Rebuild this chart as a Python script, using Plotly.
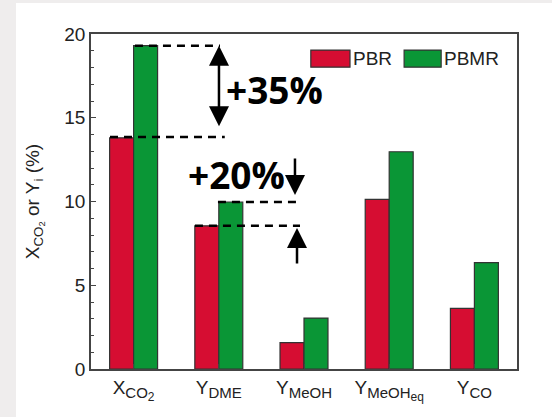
import plotly.graph_objects as go

categories = ["X<sub><span style='font-size:15px'>CO<sub><span style='font-size:12px'>2</span></sub></span></sub>",
              "Y<sub><span style='font-size:15px'>DME</span></sub>",
              "Y<sub><span style='font-size:15px'>MeOH</span></sub>",
              "Y<sub><span style='font-size:15px'>MeOH<sub><span style='font-size:12px'>eq</span></sub></span></sub>",
              "Y<sub><span style='font-size:15px'>CO</span></sub>"]
pbr = [13.8, 8.55, 1.57, 10.13, 3.62]
pbmr = [19.3, 9.97, 3.04, 12.97, 6.35]
y_ticks = [0, 5, 10, 15, 20]

RED = "#d60d32"
GREEN = "#0a9636"
EDGE = "#333333"
AX = "#444444"

xpos = list(range(len(categories)))

fig = go.Figure()
fig.add_trace(go.Bar(x=xpos, y=pbr, name="PBR", marker=dict(color=RED, line=dict(color=EDGE, width=1.2))))
fig.add_trace(go.Bar(x=xpos, y=pbmr, name="PBMR", marker=dict(color=GREEN, line=dict(color=EDGE, width=1.2))))

font_ax = dict(family="Liberation Sans, Arial, sans-serif", size=19, color="#222222")

fig.update_layout(
    width=552, height=417,
    margin=dict(l=91, r=35, t=34, b=48),
    paper_bgcolor="#efeded",
    plot_bgcolor="white",
    barmode="group", bargap=0.437, bargroupgap=0,
    showlegend=False,
    font=font_ax,
)
fig.update_xaxes(
    range=[-0.5, 4.5], tickvals=xpos, ticktext=categories, automargin=False,
    showline=True, linecolor=AX, linewidth=1.5, mirror=True,
    ticks="inside", ticklen=5, tickcolor=AX, tickwidth=1.2,
    showgrid=False, zeroline=False, tickfont=font_ax,
)
fig.update_yaxes(
    range=[0, 20], tickvals=y_ticks, automargin=False,
    showline=True, linecolor=AX, linewidth=1.5, mirror=True,
    ticks="inside", ticklen=5, tickcolor=AX, tickwidth=1.2,
    minor=dict(dtick=1, ticks="inside", ticklen=3, tickcolor=AX, tickwidth=1),
    showgrid=False, zeroline=False, tickfont=font_ax,
    title=dict(text="X<sub>CO<sub>2</sub></sub> or Y<sub>i</sub> (%)", font=font_ax, standoff=20),
)

# white panel behind the figure
fig.add_shape(type="rect", xref="paper", yref="paper", x0=-0.176, x1=1.1, y0=-0.16, y1=1.0925,
              fillcolor="white", line=dict(width=0), layer="below")

dash = dict(color="black", width=2.5, dash="8px,6px")
# dashed reference lines at bar tops
fig.add_shape(type="line", x0=0.016, x1=1.014, y0=pbmr[0], y1=pbmr[0], line=dash)
fig.add_shape(type="line", x0=-0.277, x1=1.07, y0=pbr[0] + 0.05, y1=pbr[0] + 0.05, line=dash)
fig.add_shape(type="line", x0=0.99, x1=1.953, y0=pbmr[1], y1=pbmr[1], line=dash)
fig.add_shape(type="line", x0=0.72, x1=1.953, y0=pbr[1], y1=pbr[1], line=dash)

arrow = dict(showarrow=True, arrowhead=2, arrowsize=1.6, arrowwidth=2.5, arrowcolor="black",
             axref="x", ayref="y", text="")
# double arrow +35%
fig.add_annotation(x=1.002, y=pbmr[0], ax=1.002, ay=14.4, arrowside="end+start", **arrow)
# down arrow to Y_DME PBMR
fig.add_annotation(x=1.894, y=10.39, ax=1.894, ay=12.66, **arrow)
# up arrow to Y_DME PBR
fig.add_annotation(x=1.918, y=8.42, ax=1.918, ay=6.21, **arrow)

bold = dict(family="Open Sans, Lato, sans-serif", size=37, color="black")
fig.add_annotation(x=1.653, y=16.7, text="<b>+35%</b>", showarrow=False, font=bold)
fig.add_annotation(x=1.21, y=11.64, text="<b>+20%</b>", showarrow=False, font=bold)

# legend drawn as boxes + labels
leg_font = dict(family="Liberation Sans, Arial, sans-serif", size=19, color="#222222")
fig.add_shape(type="rect", xref="paper", yref="paper", x0=0.516, x1=0.608, y0=0.901, y1=0.952,
              fillcolor=RED, line=dict(color=EDGE, width=1.2))
fig.add_annotation(xref="paper", yref="paper", x=0.611, y=0.927, text="PBR", showarrow=False,
                   xanchor="left", yanchor="middle", font=leg_font)
fig.add_shape(type="rect", xref="paper", yref="paper", x0=0.735, x1=0.822, y0=0.901, y1=0.952,
              fillcolor=GREEN, line=dict(color=EDGE, width=1.2))
fig.add_annotation(xref="paper", yref="paper", x=0.825, y=0.927, text="PBMR", showarrow=False,
                   xanchor="left", yanchor="middle", font=leg_font)

fig.write_html("out.html", config={"displayModeBar": False},
               post_script="document.body.style.margin='0px';")
